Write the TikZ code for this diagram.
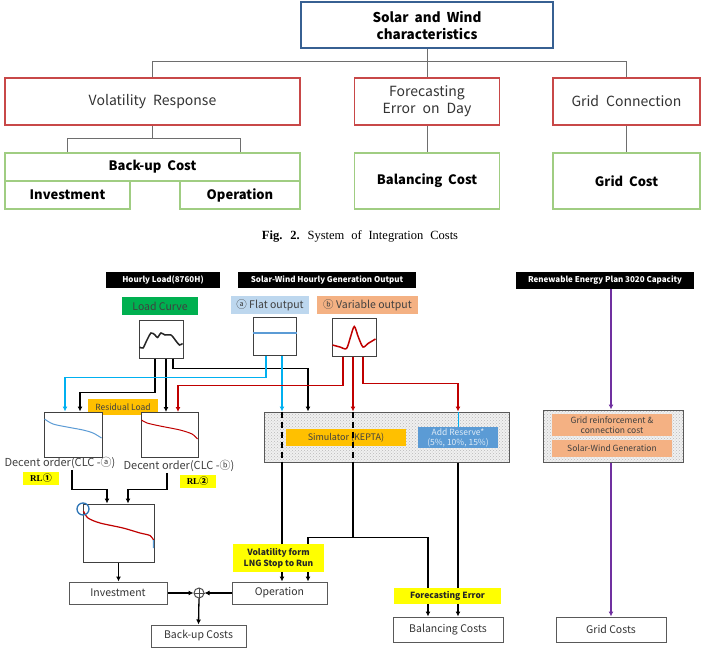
\documentclass[tikz,border=0pt]{standalone}
\usepackage{fontspec}
\setmainfont{Noto Sans CJK KR}
\newfontfamily\capfont{Liberation Serif}
\usetikzlibrary{arrows.meta, patterns, calc}
\newcommand{\widerSpace}[1]{\spaceskip=#1\relax}

\definecolor{swBlue}{RGB}{55,96,146}
\definecolor{causeRed}{RGB}{200,72,72}
\definecolor{costGreen}{RGB}{160,205,130}
\definecolor{treeGray}{RGB}{110,110,110}
\definecolor{lcGreen}{RGB}{0,176,80}
\definecolor{flatBlue}{RGB}{189,215,238}
\definecolor{varOrange}{RGB}{244,177,131}
\definecolor{resOrange}{RGB}{255,192,0}
\definecolor{hiYellow}{RGB}{255,255,0}
\definecolor{cyanW}{RGB}{0,176,240}
\definecolor{redW}{RGB}{192,0,0}
\definecolor{purpleW}{RGB}{112,48,160}
\definecolor{resBlue}{RGB}{91,155,213}
\definecolor{circBlue}{RGB}{46,117,182}

\begin{document}
\begin{tikzpicture}[x=1pt, y=-1pt, >={Latex[length=5pt, width=5pt]}]
        \tikzstyle{box} = [rectangle, text centered, align=center, inner sep=0pt]
        \tikzstyle{topBox} = [box, draw=swBlue, line width=1.2pt, font=\fontsize{13.5}{17}\selectfont\bfseries\widerSpace{0.45em}, minimum height=46pt]
        \tikzstyle{causeBox} = [box, draw=causeRed, line width=1.2pt, font=\fontsize{14}{17}\selectfont\widerSpace{0.5em}, text=black!80, minimum height=47pt]
        \tikzstyle{costBox} = [box, draw=costGreen, line width=1.2pt, font=\fontsize{13}{15}\selectfont\bfseries\widerSpace{0.45em}]
        \tikzstyle{tree} = [draw=treeGray, line width=0.9pt]
        \tikzstyle{tag} = [box, fill=black, text=white, font=\fontsize{8}{9}\selectfont\bfseries, minimum height=16pt]
        \tikzstyle{curveLbl} = [box, minimum height=18pt, font=\fontsize{10.5}{12}\selectfont, text=black!75]
        \tikzstyle{chart} = [box, draw=black!75, fill=white, line width=1pt]
        \tikzstyle{flowBox} = [box, draw=black!65, fill=white, line width=1pt, font=\fontsize{10.5}{12}\selectfont, text=black!80, minimum height=22pt]
        \tikzstyle{hatchBox} = [box, draw=black!65, line width=1pt, preaction={fill=gray!12}, pattern=crosshatch dots, pattern color=gray!55]
        \tikzstyle{inLbl} = [box, font=\fontsize{8.5}{10}\selectfont, text=black!75]
        \tikzstyle{hiLbl} = [box, fill=hiYellow, font=\fontsize{8.5}{11}\selectfont\bfseries, text=black!85]
        \tikzstyle{rlLbl} = [box, fill=hiYellow, minimum width=36pt, minimum height=13pt, font=\fontsize{9}{10}\selectfont\bfseries]
        \tikzstyle{wire} = [line width=1.3pt]

        \useasboundingbox (0,0) rectangle (704,650);

        \node[topBox, minimum width=252pt] (sw) at (427,25) {Solar and Wind\\characteristics};
        \node[causeBox, minimum width=295pt] (vol) at (152.5,101.5) {Volatility Response};
        \node[causeBox, minimum width=145pt] (fore) at (427,101.5) {Forecasting\\Error on Day};
        \node[causeBox, minimum width=147pt] (gridc) at (626.5,101.5) {Grid Connection};
        \node[costBox, minimum width=295pt, minimum height=28pt] (backup) at (152.5,167) {Back-up Cost};
        \node[costBox, minimum width=125pt, minimum height=28pt] (inv) at (67.5,195) {Investment};
        \node[costBox, minimum width=120pt, minimum height=28pt] (oper) at (240,195) {Operation};
        \node[costBox, minimum width=145pt, minimum height=56pt] (bal) at (427,181) {Balancing Cost};
        \node[costBox, minimum width=147pt, minimum height=56pt] (gcost) at (626.5,181) {Grid Cost};

        \draw[tree] (sw.south) -- (fore.north);
        \draw[tree] (vol.north) -- ++(0,-16) -| (gridc.north);
        \draw[tree] (vol.south) -- ++(0,13) coordinate (vsplit);
        \draw[tree] (inv.north |- backup.north) |- (vsplit) -| (oper.north |- backup.north);
        \draw[tree] (fore.south) -- (bal.north);
        \draw[tree] (gridc.south) -- (gcost.north);

        \node[font=\capfont\fontsize{12.5}{14}\selectfont\widerSpace{0.55em}] (cap) at (360,236) {\textbf{Fig. 2.} System of Integration Costs};

        \node[tag, minimum width=114pt] (hload) at (163,280) {Hourly Load(8760H)};
        \node[tag, minimum width=178pt] (swgen) at (327,280) {Solar-Wind Hourly Generation Output};
        \node[tag, minimum width=178pt, minimum height=17pt] (replan) at (605,280.5) {Renewable Energy Plan 3020 Capacity};

        \node[curveLbl, fill=lcGreen, minimum width=76pt] (lcLbl) at (160,306) {Load Curve};
        \node[curveLbl, fill=flatBlue, minimum width=78pt] (flatLbl) at (270,305) {ⓐ Flat output};
        \node[curveLbl, fill=varOrange, minimum width=101pt] (varLbl) at (367.5,305) {ⓑ Variable output};

        \node[inLbl, fill=resOrange, minimum width=70pt, minimum height=16pt] (resLbl) at (123,407) {Residual Load};

        \node[chart, minimum width=44pt, minimum height=38pt] (lcBox) at (161,339) {};
        \node[chart, minimum width=43pt, minimum height=38pt] (flatBox) at (274.5,336) {};
        \node[chart, minimum width=44pt, minimum height=38pt] (varBox) at (354,337) {};
        \node[chart, minimum width=58pt, minimum height=45pt] (clcA) at (73,434.5) {};
        \node[chart, minimum width=57pt, minimum height=45pt] (clcB) at (169.5,435) {};
        \node[chart, minimum width=71pt, minimum height=58pt] (combBox) at (118.5,533) {};

        \draw[line width=1.5pt, black!85] plot[smooth] coordinates {(139.5,347) (143,348) (146.5,341) (151,333) (155,335) (157.5,337.5) (161,333) (165,335) (171,335) (176,341) (179.5,345) (182.5,343.5)};
        \draw[line width=1.2pt, resBlue] ($(flatBox.west)+(0,-3)$) -- ($(flatBox.east)+(0,-3)$);
        \draw[line width=1.5pt, redW] plot[smooth, tension=0.5] coordinates {(332.5,345) (340,347) (346.5,348.5) (350.5,337) (354.3,326.5) (358.3,337) (363,347) (368,343.5) (375.5,339)};
        \draw[line width=1pt, resBlue] plot[smooth] coordinates {(44.5,419) (53,424) (67,427) (83,430) (93,433) (101.5,438)};
        \draw[line width=1pt, redW] plot[smooth] coordinates {(141.5,420) (147,423) (160,426) (180,430) (192,434) (197.5,439)};
        \draw[line width=1.2pt, redW] plot[smooth] coordinates {(83.5,511) (88,518) (100,523) (123,528) (140,533) (150,535.5) (153.5,540)};
        \draw[line width=1.2pt, resBlue] (153.5,540) -- (153.6,548);
        \draw[line width=1.3pt, circBlue] (83,509) circle[radius=6pt];

        \node[font=\fontsize{11}{13}\selectfont, text=black!75, inner sep=1pt] (clcAtxt) at (60,463) {Decent order(CLC -ⓐ)};
        \node[font=\fontsize{11}{13}\selectfont, text=black!75, inner sep=1pt] (clcBtxt) at (179,466) {Decent order(CLC -ⓑ)};
        \node[rlLbl] (rl1) at (41,478.5) {{\capfont RL}①};
        \node[rlLbl] (rl2) at (197.5,481.5) {{\capfont RL}②};

        \node[flowBox, minimum width=98pt] (invB) at (118,593) {Investment};
        \node[flowBox, minimum width=95pt] (opB) at (279.5,593) {Operation};
        \node[flowBox, minimum width=95pt] (bkB) at (198.5,636) {Back-up Costs};
        \node[circle, draw=black!70, fill=white, line width=1pt, minimum size=10pt, inner sep=0pt] (plus) at (199,593) {};
        \draw[black!70, line width=0.8pt] (plus.north) -- (plus.south) (plus.west) -- (plus.east);
        \node[flowBox, minimum width=110pt, minimum height=25pt] (balB) at (448,629.5) {Balancing Costs};
        \node[flowBox, minimum width=110pt, minimum height=25pt] (gcB) at (611,629.5) {Grid Costs};

        \node[hatchBox, minimum width=245pt, minimum height=50pt] (sim) at (386.5,437) {};
        \node[inLbl, fill=resOrange, minimum width=120pt, minimum height=17pt, font=\fontsize{9}{10}\selectfont] (simLbl) at (346,437.5) {Simulator (KEPTA)};
        \node[inLbl, fill=resBlue, text=white!80!resBlue, minimum width=80pt, minimum height=21pt] (resvLbl) at (458,437.5) {Add Reserve*\\(5\%, 10\%, 15\%)};

        \node[hatchBox, minimum width=140pt, minimum height=52pt] (gridBox) at (613,436) {};
        \node[inLbl, fill=varOrange, minimum width=120pt, minimum height=22pt] (reinfLbl) at (612,425) {Grid reinforcement \&\\connection cost};
        \node[inLbl, fill=varOrange, minimum width=120pt, minimum height=17pt] (genLbl) at (612,448.5) {Solar-Wind Generation};

        \draw[->, wire] ([xshift=-6pt]lcBox.south) -- ++(0,34) -| ([xshift=7pt]clcA.north);
        \draw[->, wire] ([xshift=5pt]lcBox.south) -- ([xshift=5pt]lcBox.south |- clcB.north);
        \draw[->, wire] ([xshift=12pt]lcBox.south) -- ++(0,10) -| ([xshift=-78.5pt]sim.north);
        \draw[->, wire, cyanW] ([xshift=-8.5pt]flatBox.south) -- ++(0,22) -| ([xshift=-8pt]clcA.north);
        \draw[->, wire, cyanW] ([xshift=7.5pt]flatBox.south) -- ([xshift=7.5pt]flatBox.south |- sim.north);
        \draw[->, wire, redW] ([xshift=-11pt]varBox.south) -- ++(0,29) -| ([xshift=8.5pt]clcB.north);
        \draw[->, wire, redW] ([xshift=-1pt]varBox.south) -- ([xshift=-1pt]varBox.south |- sim.north);
        \draw[->, wire, redW] ([xshift=9pt]varBox.south) -- ++(0,27) -| (resvLbl.north |- sim.north);
        \draw[wire, cyanW, line width=1pt] (resvLbl.north |- sim.north) -- (resvLbl.north);

        \draw[wire, dash pattern=on 6pt off 4pt] ([xshift=7.5pt]flatBox.south |- sim.north) -- ([xshift=7.5pt]flatBox.south |- sim.south);
        \draw[wire, dash pattern=on 6pt off 4pt] ([xshift=-1pt]varBox.south |- sim.north) -- ([xshift=-1pt]varBox.south |- sim.south);
        \draw[->, wire] ([xshift=7.5pt]flatBox.south |- sim.south) -- ([xshift=7.5pt]flatBox.south |- opB.north);
        \draw[wire] ([xshift=-1pt]varBox.south |- sim.south) -- ++(0,75) coordinate (fcSplit);
        \draw[->, wire] (fcSplit) -| ([xshift=28.5pt]opB.north);
        \draw[->, wire] (fcSplit) -| ([xshift=-20pt]balB.north);
        \draw[->, wire] (resvLbl.south |- sim.south) -- (resvLbl.south |- balB.north);

        \draw[->, wire, purpleW] (replan.south -| gcB.north) -- (gridBox.north -| gcB.north);
        \draw[->, wire, purpleW] (gridBox.south -| gcB.north) -- (gcB.north);

        \draw[->, wire] ([xshift=12pt]clcAtxt.south) |- ([xshift=-11.5pt, yshift=14pt]combBox.north) -- ([xshift=-11.5pt]combBox.north);
        \draw[->, wire] ([xshift=-12pt]clcBtxt.south) |- ([xshift=9.5pt, yshift=14pt]combBox.north) -- ([xshift=9.5pt]combBox.north);
        \draw[->, wire] (combBox.south) -- (combBox.south |- invB.north);
        \draw[->, wire] (invB.east) -- (plus.west);
        \draw[->, wire] (opB.west) -- (plus.east);
        \draw[->, wire] (plus.south) -- (bkB.north);

        \node[hiLbl, minimum width=91pt, minimum height=28pt] (volLbl) at (278.5,558) {Volatility form\\LNG Stop to Run};
        \node[hiLbl, minimum width=107pt, minimum height=16pt] (fcLbl) at (447.5,596) {Forecasting Error};
\end{tikzpicture}
\end{document}
